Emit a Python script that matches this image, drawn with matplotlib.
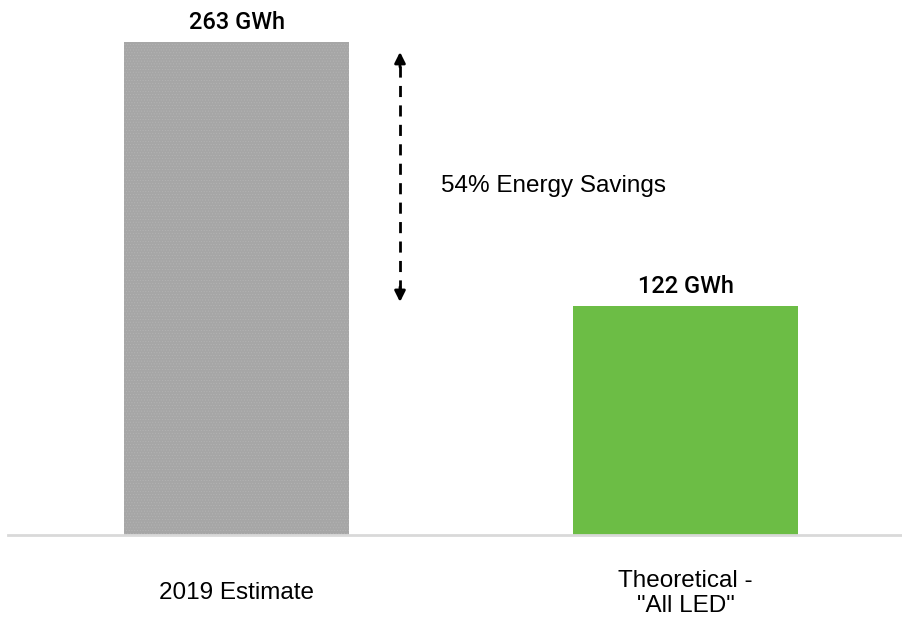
import matplotlib.pyplot as plt

categories = ["2019 Estimate", 'Theoretical -\n"All LED"']
values = [263, 122]
value_labels = ["263 GWh", "122 GWh"]
savings_label = "54% Energy Savings"

plt.rcParams['font.family'] = ['Liberation Sans', 'DejaVu Sans']
plt.rcParams['hatch.linewidth'] = 0.4

fig = plt.figure(figsize=(9.02, 6.2), dpi=100)
ax = fig.add_axes([8/902, 85/620, 894/902, 525/620])

x = [0, 1]
bars = ax.bar(x, values, width=0.5, color=["#a6a6a6", "#6cbd45"], linewidth=0)
bars[0].set_hatch("......")
bars[0].set_edgecolor("#b4b4b4")

for xi, v, lab in zip(x, values, value_labels):
    ax.annotate(lab, (xi, v), xytext=(0, 6), textcoords="offset points",
                ha="center", va="bottom", fontsize=17,
                family=["Roboto", "Liberation Sans"], fontweight="medium")

ax.set_xlim(-0.509, 1.482)
ax.set_ylim(0, 280)

# dashed double arrow between the two bar heights
ax_x = 0.364
top, bot = 257.6, 124.3
ax.plot([ax_x, ax_x], [bot + 6, top - 6], color="black", lw=2,
        linestyle=(0, (4, 3)))
ax.annotate("", xy=(ax_x, top), xytext=(ax_x, top - 8),
            arrowprops=dict(arrowstyle="-|>", color="black", lw=2,
                            mutation_scale=16, shrinkA=0, shrinkB=0))
ax.annotate("", xy=(ax_x, bot), xytext=(ax_x, bot + 8),
            arrowprops=dict(arrowstyle="-|>", color="black", lw=2,
                            mutation_scale=16, shrinkA=0, shrinkB=0))
ax.text(0.455, 186, savings_label, ha="left", va="center", fontsize=17.5)

ax.set_xticks(x)
ax.set_xticklabels(categories, fontsize=17.5, va="center", linespacing=1.15)
ax.tick_params(axis="x", length=0, pad=42)
ax.set_yticks([])
for s in ["top", "right", "left"]:
    ax.spines[s].set_visible(False)
ax.spines["bottom"].set_color("#d9d9d9")
ax.spines["bottom"].set_linewidth(2)

fig.savefig("out.png", dpi=100)
